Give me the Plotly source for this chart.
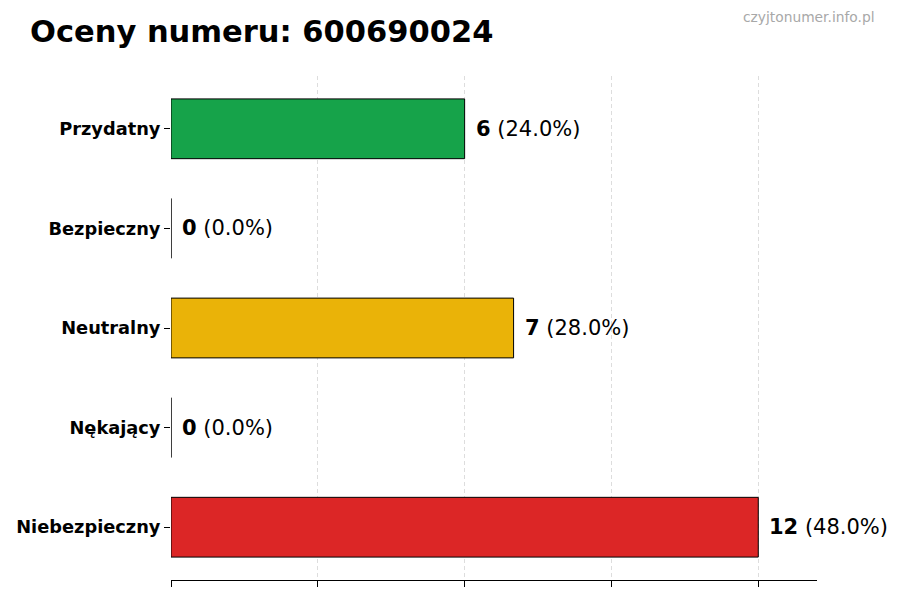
import plotly.graph_objects as go

# dane do wykresu
kategorie = ['Niebezpieczny', 'Nękający', 'Neutralny', 'Bezpieczny', 'Przydatny']
liczby = [12, 0, 7, 0, 6]
kolory = ['#dc2626', '#f97316', '#eab308', '#3b82f6', '#16a34a']
tytul = 'Oceny numeru: 600690024'
znak_wodny = 'czyjtonumer.info.pl'

suma = sum(liczby)
procenty = [100 * v / suma for v in liczby]

fig = go.Figure([go.Bar(
    x=liczby, y=kategorie, orientation='h', width=0.6,
    marker=dict(color=kolory, line=dict(color='black', width=1)),
    hoverinfo='skip'
)])

# podpisy przy słupkach
for k, v, p in zip(kategorie, liczby, procenty):
    fig.add_annotation(x=v, y=k, text='<b>' + str(v) + '</b> (' + f'{p:.1f}' + '%)',
                       showarrow=False, xanchor='left', xshift=9,
                       font=dict(size=21, color='black'))

# strona ma margines 8px, więc wszystko przesunięte o -8
fig.add_annotation(text=tytul, xref='paper', yref='paper', x=-0.2214, y=1.089,
                   xanchor='left', yanchor='middle', showarrow=False,
                   font=dict(size=30.5, color='black', family='DejaVu Sans', weight='bold'))
fig.add_annotation(text=znak_wodny, xref='paper', yref='paper', x=1.0935, y=1.117,
                   xanchor='right', yanchor='middle', showarrow=False,
                   font=dict(size=13.8, color='#a8a8a8'))

fig.update_layout(
    width=900, height=600,
    margin=dict(l=163, r=91, t=68, b=28),
    plot_bgcolor='white', paper_bgcolor='white',
    font=dict(family='DejaVu Sans', color='black'),
    showlegend=False,
)
fig.update_xaxes(range=[0, 13.2], tickvals=[0, 3, 6, 9, 12], showticklabels=False,
                 ticks='outside', ticklen=6, tickcolor='black',
                 showline=True, linecolor='black', linewidth=1.2,
                 showgrid=True, gridcolor='#dddddd', griddash='4px,3px', gridwidth=1,
                 zeroline=False, automargin=False)
fig.update_yaxes(range=[-0.53, 4.53], ticks='outside', ticklen=6, tickcolor='black',
                 showline=False, showgrid=False, zeroline=False, automargin=False,
                 tickfont=dict(size=17.8, color='black', weight='bold'))

fig.write_html('out.html')
